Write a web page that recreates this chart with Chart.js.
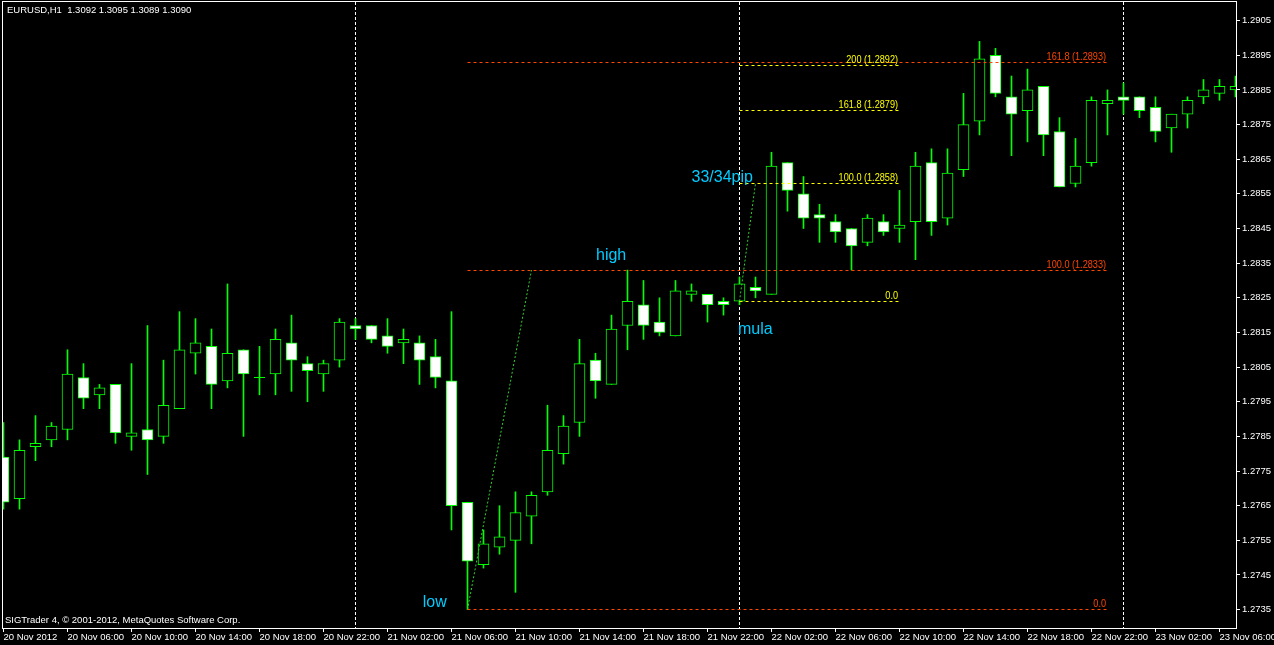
<!DOCTYPE html>
<html><head><meta charset="utf-8">
<script src="https://cdn.jsdelivr.net/npm/chart.js@4.4.1/dist/chart.umd.min.js"></script>
<style>html,body{margin:0;padding:0;background:#000;overflow:hidden}canvas{display:block}</style>
</head><body>
<canvas id="c" width="1274" height="645"></canvas>
<script>
// ---- data (hours counted from 20 Nov 2012 00:00, H1 bars) ----
const hours = [2,3,4,5,6,7,8,9,10,11,12,13,14,15,16,17,18,19,20,21,22,23,24,25,26,27,28,29,30,31,32,33,34,35,36,37,38,39,40,41,42,43,44,45,46,47,48,49,50,51,52,53,54,55,56,57,58,59,60,61,62,63,64,65,66,67,68,69,70,71,72,73,74,75,76,77,78,79];
const opens  = [1.2779,1.2767,1.2782,1.2784,1.2787,1.2802,1.2797,1.2800,1.2785,1.2787,1.2785,1.2793,1.2809,1.2811,1.2801,1.2810,1.2802,1.2803,1.2812,1.2806,1.2803,1.2807,1.2817,1.2817,1.2814,1.2812,1.2812,1.2808,1.2801,1.2766,1.2748,1.2753,1.2755,1.2762,1.2769,1.2780,1.2789,1.2807,1.2800,1.2817,1.2823,1.2818,1.2814,1.2826,1.2826,1.2824,1.2824,1.2828,1.2826,1.2864,1.2855,1.2849,1.2847,1.2845,1.2841,1.2847,1.2845,1.2847,1.2864,1.2848,1.2862,1.2876,1.2895,1.2883,1.2879,1.2886,1.2873,1.2858,1.2864,1.2881,1.2883,1.2883,1.2880,1.2874,1.2878,1.2883,1.2884,1.2885];
const highs  = [1.2789,1.2784,1.2791,1.2789,1.2810,1.2806,1.2800,1.2800,1.2806,1.2817,1.2807,1.2821,1.2819,1.2816,1.2829,1.2810,1.2811,1.2816,1.2820,1.2808,1.2807,1.2819,1.2819,1.2817,1.2819,1.2816,1.2814,1.2813,1.2821,1.2766,1.2758,1.2765,1.2769,1.2769,1.2794,1.2791,1.2813,1.2809,1.2820,1.2833,1.2830,1.2825,1.2830,1.2829,1.2826,1.2825,1.2831,1.2831,1.2867,1.2864,1.2860,1.2852,1.2849,1.2845,1.2849,1.2849,1.2856,1.2867,1.2868,1.2868,1.2884,1.2899,1.2897,1.2889,1.2891,1.2886,1.2877,1.2871,1.2883,1.2885,1.2887,1.2883,1.2883,1.2878,1.2883,1.2888,1.2888,1.2889];
const lows   = [1.2764,1.2764,1.2778,1.2782,1.2784,1.2793,1.2793,1.2783,1.2781,1.2774,1.2783,1.2793,1.2803,1.2793,1.2799,1.2785,1.2797,1.2797,1.2798,1.2795,1.2798,1.2805,1.2813,1.2812,1.2809,1.2806,1.2800,1.2799,1.2758,1.2735,1.2747,1.2751,1.2740,1.2754,1.2768,1.2777,1.2785,1.2796,1.2800,1.2810,1.2813,1.2814,1.2814,1.2824,1.2818,1.2820,1.2823,1.2825,1.2826,1.2850,1.2845,1.2841,1.2841,1.2833,1.2840,1.2843,1.2841,1.2836,1.2843,1.2846,1.2860,1.2872,1.2883,1.2866,1.2870,1.2866,1.2857,1.2857,1.2863,1.2872,1.2878,1.2877,1.2870,1.2867,1.2874,1.2881,1.2882,1.2883];
const closes = [1.2766,1.2781,1.2783,1.2788,1.2803,1.2796,1.2799,1.2786,1.2786,1.2784,1.2794,1.2810,1.2812,1.2800,1.2809,1.2803,1.2802,1.2813,1.2807,1.2804,1.2806,1.2818,1.2816,1.2813,1.2811,1.2813,1.2807,1.2802,1.2765,1.2749,1.2754,1.2756,1.2763,1.2768,1.2781,1.2788,1.2806,1.2801,1.2816,1.2824,1.2817,1.2815,1.2827,1.2827,1.2823,1.2823,1.2829,1.2827,1.2863,1.2856,1.2848,1.2848,1.2844,1.2840,1.2848,1.2844,1.2846,1.2863,1.2847,1.2861,1.2875,1.2894,1.2884,1.2878,1.2885,1.2872,1.2857,1.2863,1.2882,1.2882,1.2882,1.2879,1.2873,1.2878,1.2882,1.2885,1.2886,1.2886];

const timeTickHours  = [2,6,10,14,18,22,26,30,34,38,42,46,50,54,58,62,66,70,74,78];
const timeTickLabels = ['20 Nov 2012','20 Nov 06:00','20 Nov 10:00','20 Nov 14:00','20 Nov 18:00','20 Nov 22:00','21 Nov 02:00','21 Nov 06:00','21 Nov 10:00','21 Nov 14:00','21 Nov 18:00','21 Nov 22:00','22 Nov 02:00','22 Nov 06:00','22 Nov 10:00','22 Nov 14:00','22 Nov 18:00','22 Nov 22:00','23 Nov 02:00','23 Nov 06:00'];
const priceTicks = [1.2905,1.2895,1.2885,1.2875,1.2865,1.2855,1.2845,1.2835,1.2825,1.2815,1.2805,1.2795,1.2785,1.2775,1.2765,1.2755,1.2745,1.2735];
const daySeparators = [24,48,72];

const redFibPrices = [1.2735,1.2833,1.2893];
const redFibLabels = ['0.0','100.0 (1.2833)','161.8 (1.2893)'];
const redFibSpan = [31,71];
const redFibTrend = [[31,1.2735],[35,1.2833]];
const yellowFibPrices = [1.2824,1.2858,1.2879,1.2892];
const yellowFibLabels = ['0.0','100.0 (1.2858)','161.8 (1.2879)','200 (1.2892)'];
const yellowFibSpan = [48,58];
const yellowFibTrend = [[48,1.2824],[49,1.2858]];

const noteTexts = ['high','33/34pip','mula','low'];
const noteHours = [39.03,45.0,47.9,28.2];
const notePrices = [1.28359,1.28585,1.28146,1.27359];

const titleText = 'EURUSD,H1  1.3092 1.3095 1.3089 1.3090';
const copyText = 'SIGTrader 4, \u00a9 2001-2012, MetaQuotes Software Corp.';

// ---- styles ----
const GREEN = '#00ff00', RED = '#ff4500', YELLOW = '#ffff00', CYAN = '#00ccff', TREND = '#2ed22e';
const FONT = '"Liberation Sans", Arial, sans-serif';
Chart.defaults.font.family = FONT;
Chart.defaults.font.size = 9.5;

const datasets = [];
datasets.push({type:'bar', data: hours.map((h,i)=>({x:h, y:[lows[i], highs[i]]})),
  backgroundColor: GREEN, barThickness: 1, grouped:false, order: 3, borderWidth:0});
datasets.push({type:'bar', data: hours.map((h,i)=>({x:h, y:[opens[i], closes[i]]})),
  backgroundColor: hours.map((h,i)=> closes[i] < opens[i] ? '#ffffff' : '#000000'),
  borderColor: GREEN, borderWidth: 1, borderSkipped: false, barThickness: 11, grouped:false, order: 2});
const dojiIdx = hours.map((h,i)=>i).filter(i=>opens[i]===closes[i]);
datasets.push({type:'line', showLine:false, data: dojiIdx.map(i=>({x:hours[i], y:closes[i]})),
  pointStyle:'line', pointRadius:5.5, pointBorderColor: GREEN, pointBorderWidth:1, order: 1});
[redFibTrend, yellowFibTrend].forEach(t=>datasets.push({type:'line', data:t.map(q=>({x:q[0],y:q[1]})),
  borderColor: TREND, borderWidth:1, borderDash:[2,2], pointRadius:0, order:0}));

const overlay = {
  id:'mt4overlay',
  beforeDatasetsDraw(chart){
    const {ctx, chartArea:a, scales:{x}} = chart;
    ctx.save();
    ctx.strokeStyle = '#ffffff'; ctx.lineWidth = 1; ctx.setLineDash([3,2]);
    daySeparators.forEach(h=>{
      const px = Math.floor(x.getPixelForValue(h)) + 0.5;
      ctx.beginPath(); ctx.moveTo(px, a.top); ctx.lineTo(px, a.bottom); ctx.stroke();
    });
    ctx.restore();
  },
  afterDatasetsDraw(chart){
    const {ctx, scales:{x,y}} = chart;
    ctx.save();
    ctx.lineWidth = 1; ctx.setLineDash([3,3]);
    const fibLines = (prices, span, color) => {
      ctx.strokeStyle = color;
      const x0 = x.getPixelForValue(span[0]), x1 = x.getPixelForValue(span[1]);
      prices.forEach(p=>{
        const py = Math.floor(y.getPixelForValue(p)) + 0.5;
        ctx.beginPath(); ctx.moveTo(x0, py); ctx.lineTo(x1, py); ctx.stroke();
      });
    };
    fibLines(redFibPrices, redFibSpan, RED);
    fibLines(yellowFibPrices, yellowFibSpan, YELLOW);
    ctx.restore();
  },
  afterDraw(chart){
    const {ctx, chartArea:a, scales:{x,y}} = chart;
    ctx.save();
    // frame
    ctx.strokeStyle = '#ffffff'; ctx.lineWidth = 1; ctx.setLineDash([]);
    ctx.strokeRect(Math.floor(a.left) + 0.5, Math.floor(a.top) - 0.5, Math.round(a.right - a.left), Math.round(a.bottom - a.top) + 1);
    // fib labels
    ctx.font = '11px ' + FONT; ctx.textAlign = 'right'; ctx.textBaseline = 'alphabetic';
    const fibText = (labels, prices, span, color) => {
      ctx.fillStyle = color;
      const ex = x.getPixelForValue(span[1]) - 1.5;
      labels.forEach((t,i)=>{
        const w = ctx.measureText(t).width;
        ctx.fillText(t, ex, Math.floor(y.getPixelForValue(prices[i])) - 2, w*0.83);
      });
    };
    fibText(redFibLabels, redFibPrices, redFibSpan, RED);
    fibText(yellowFibLabels, yellowFibPrices, yellowFibSpan, YELLOW);
    // notes
    ctx.font = '16px ' + FONT; ctx.textAlign = 'left'; ctx.fillStyle = CYAN;
    noteTexts.forEach((t,i)=> ctx.fillText(t, x.getPixelForValue(noteHours[i]), y.getPixelForValue(notePrices[i])));
    // title / copyright
    ctx.font = '9.5px ' + FONT; ctx.fillStyle = '#ffffff';
    ctx.fillText(titleText, 7, 13);
    ctx.fillText(copyText, 5, 623);
    ctx.restore();
  }
};

new Chart(document.getElementById('c'), {
  type:'bar',
  data:{ datasets },
  options:{
    responsive:false, animation:false, events:[],
    layout:{ autoPadding:false, padding:{left:2, top:2, right:0, bottom:0} },
    plugins:{ legend:{display:false}, tooltip:{enabled:false} },
    scales:{
      x:{ type:'linear', min:1.90625, max:79.03125, offset:false,
        afterBuildTicks: ax => { ax.ticks = timeTickHours.map(v=>({value:v})); },
        afterFit: ax => { ax.height = 17; ax.paddingLeft = 0; ax.paddingRight = 0; },
        grid:{ drawOnChartArea:false, offset:false, tickLength:4, color:'#ffffff' },
        border:{ display:false },
        ticks:{ color:'#ffffff', align:'start', maxRotation:0, minRotation:0, autoSkip:false, padding:0,
          callback: v => timeTickLabels[timeTickHours.indexOf(v)] }
      },
      y:{ type:'linear', position:'right', min:1.272970, max:1.291037,
        afterBuildTicks: ax => { ax.ticks = priceTicks.map(v=>({value:v})); },
        afterFit: ax => { ax.width = 38; ax.paddingTop = 0; ax.paddingBottom = 0; },
        grid:{ drawOnChartArea:false, tickLength:4, color:'#ffffff' },
        border:{ display:false },
        ticks:{ color:'#ffffff', padding:2, callback: v => v.toFixed(4) }
      }
    }
  },
  plugins:[overlay]
});
</script>
</body></html>
